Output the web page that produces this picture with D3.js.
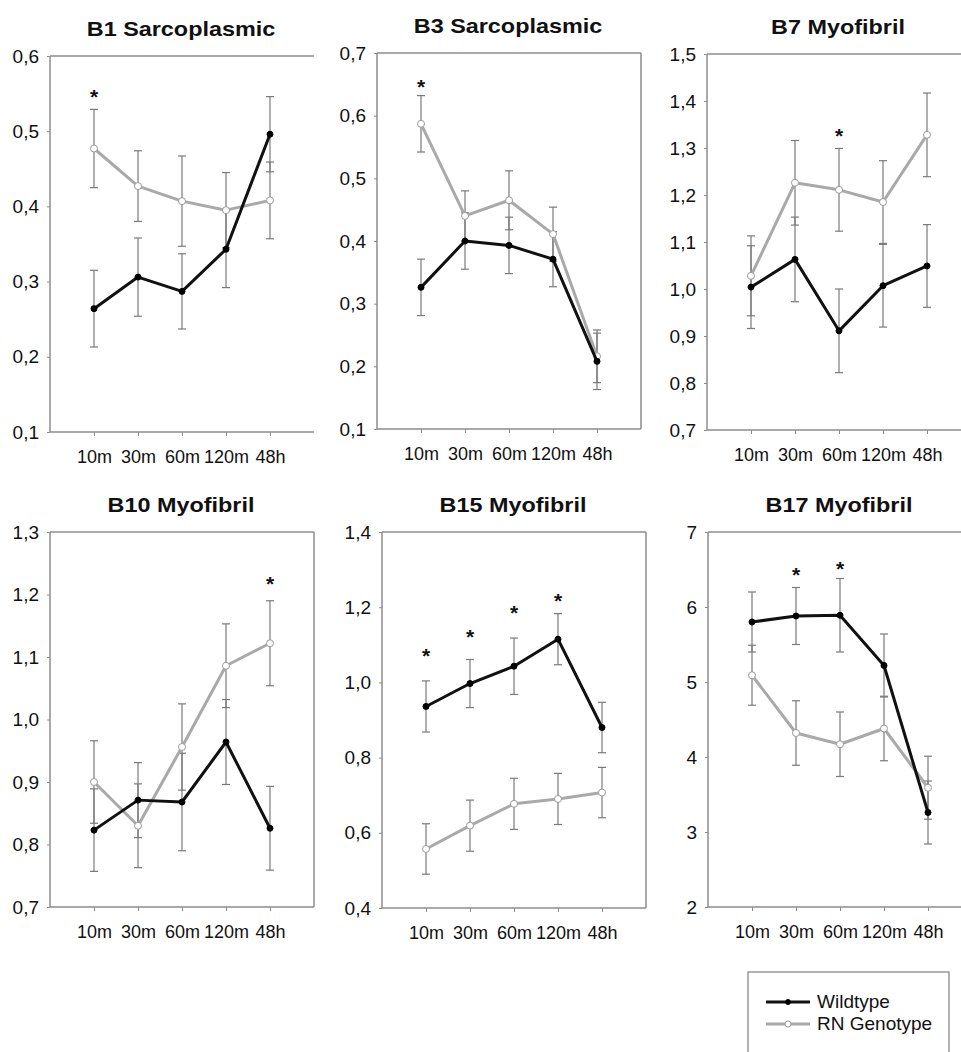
<!DOCTYPE html>
<html lang="en">
<head>
<meta charset="UTF-8"/>
<title>Wildtype vs RN Genotype</title>
<style>
  * { margin:0; padding:0; box-sizing:border-box }
  body { background:#fff; overflow:hidden; }
  svg { display:block; font-family:'Liberation Sans', Arial, sans-serif; }
</style>
</head>
<body>
<div id="chart"></div>
<script src="https://cdnjs.cloudflare.com/ajax/libs/d3/7.8.5/d3.min.js"></script>
<script>
// ── data ──────────────────────────────────
const times = ["10m", "30m", "60m", "120m", "48h"];
const titles = ["B1 Sarcoplasmic", "B3 Sarcoplasmic", "B7 Myofibril",
                "B10 Myofibril", "B15 Myofibril", "B17 Myofibril"];

// y axis ranges / ticks per panel
const yDomains = [[0.1, 0.6], [0.1, 0.7], [0.7, 1.5], [0.7, 1.3], [0.4, 1.4], [2, 7]];
const yTicks = [
  [0.1, 0.2, 0.3, 0.4, 0.5, 0.6],
  [0.1, 0.2, 0.3, 0.4, 0.5, 0.6, 0.7],
  [0.7, 0.8, 0.9, 1.0, 1.1, 1.2, 1.3, 1.4, 1.5],
  [0.7, 0.8, 0.9, 1.0, 1.1, 1.2, 1.3],
  [0.4, 0.6, 0.8, 1.0, 1.2, 1.4],
  [2, 3, 4, 5, 6, 7]
];

// Wildtype means and errors
const wildMean = [
  [0.264, 0.306, 0.287, 0.343, 0.496],
  [0.326, 0.400, 0.393, 0.371, 0.208],
  [1.004, 1.063, 0.911, 1.007, 1.049],
  [0.823, 0.871, 0.868, 0.964, 0.826],
  [0.936, 0.997, 1.043, 1.115, 0.880],
  [5.80, 5.88, 5.89, 5.22, 3.26]
];
const wildErr = [
  [0.051, 0.052, 0.050, 0.051, 0.050],
  [0.045, 0.045, 0.045, 0.044, 0.045],
  [0.088, 0.090, 0.089, 0.088, 0.088],
  [0.066, 0.060, 0.078, 0.068, 0.067],
  [0.068, 0.064, 0.075, 0.068, 0.067],
  [0.40, 0.38, 0.49, 0.42, 0.42]
];

// RN genotype means and errors
const rnMean = [
  [0.477, 0.427, 0.407, 0.395, 0.408],
  [0.587, 0.440, 0.465, 0.411, 0.216],
  [1.028, 1.226, 1.211, 1.185, 1.328],
  [0.900, 0.830, 0.956, 1.086, 1.122],
  [0.557, 0.619, 0.677, 0.690, 0.707],
  [5.09, 4.32, 4.17, 4.38, 3.59]
];
const rnErr = [
  [0.052, 0.047, 0.060, 0.050, 0.051],
  [0.045, 0.040, 0.047, 0.043, 0.042],
  [0.085, 0.090, 0.088, 0.088, 0.089],
  [0.066, 0.067, 0.069, 0.067, 0.068],
  [0.067, 0.068, 0.068, 0.068, 0.067],
  [0.40, 0.43, 0.43, 0.43, 0.42]
];

// significance markers: [time index, level]
const stars = [
  [[0, 0.552]],
  [[0, 0.654]],
  [[2, 1.336]],
  [[4, 1.225]],
  [[0, 1.083], [1, 1.133], [2, 1.197], [3, 1.229]],
  [[1, 6.50], [2, 6.57]]
];

const legendLabels = ["Wildtype", "RN Genotype"];

// ── layout ────────────────────────────────
const W = 961, H = 1052;
const panels = [
  {left:50,  top:56,  bottom:432, right:false},
  {left:377, top:53,  bottom:429, right:true},
  {left:707, top:54,  bottom:430, right:true},
  {left:50,  top:532, bottom:907, right:true},
  {left:382, top:532, bottom:908, right:true},
  {left:708, top:532, bottom:907, right:true}
];
const plotW = 264;
const frameCol = "#8c8c8c", errCol = "#7a7a7a";
const blackCol = "#111", greyCol = "#a9a9a9";

const svg = d3.select("#chart").append("svg")
  .attr("width", W).attr("height", H);
svg.append("rect").attr("width", W).attr("height", H).attr("fill", "#fff");

const comma = f => v => f(v).replace(".", ",");

panels.forEach((p, k) => {
  const g = svg.append("g");
  const x = d3.scalePoint().domain(times).range([p.left, p.left + plotW]).padding(1);
  const y = d3.scaleLinear().domain(yDomains[k]).range([p.bottom, p.top]);
  const fmt = k === 5 ? d3.format("d") : comma(d3.format(".1f"));

  // title
  g.append("text")
    .attr("transform", `translate(${p.left + 131},${p.top - 20}) scale(1.17,1)`)
    .attr("text-anchor", "middle")
    .attr("font-size", 20).attr("font-weight", "bold").attr("fill", "#111")
    .text(titles[k]);

  // axes
  const ya = g.append("g").attr("transform", `translate(${p.left},0)`)
    .call(d3.axisLeft(y).tickValues(yTicks[k]).tickFormat(fmt).tickSize(3).tickPadding(8));
  ya.select(".domain").remove();
  ya.selectAll("line").attr("stroke", frameCol);
  ya.selectAll("text").attr("font-size", 19).attr("fill", "#111");

  const xa = g.append("g").attr("transform", `translate(0,${p.bottom})`)
    .call(d3.axisBottom(x).tickSize(4).tickPadding(14));
  xa.select(".domain").remove();
  xa.selectAll("line").attr("stroke", frameCol);
  xa.selectAll("text").attr("font-size", 18).attr("fill", "#111");

  // frame
  const fr = [[p.left, p.top, p.left, p.bottom],
              [p.left, p.top, p.left + plotW, p.top],
              [p.left, p.bottom, p.left + plotW, p.bottom]];
  if (p.right) fr.push([p.left + plotW, p.top, p.left + plotW, p.bottom]);
  g.selectAll(".frame").data(fr).join("line")
    .attr("x1", d => d[0]).attr("y1", d => d[1])
    .attr("x2", d => d[2]).attr("y2", d => d[3])
    .attr("stroke", frameCol).attr("stroke-width", 1.5);

  const series = [
    {mean: rnMean[k],   err: rnErr[k],   col: greyCol,  fill: "#fff", stroke: "#9a9a9a", r: 3.5},
    {mean: wildMean[k], err: wildErr[k], col: blackCol, fill: "#000", stroke: "#000",    r: 3}
  ];

  // error bars
  series.forEach(s => {
    const eb = g.append("g").attr("stroke", errCol).attr("stroke-width", 1.2);
    s.mean.forEach((m, i) => {
      const cx = x(times[i]), y1 = y(m + s.err[i]), y2 = y(m - s.err[i]);
      eb.append("line").attr("x1", cx).attr("x2", cx).attr("y1", y1).attr("y2", y2);
      eb.append("line").attr("x1", cx - 4).attr("x2", cx + 4).attr("y1", y1).attr("y2", y1);
      eb.append("line").attr("x1", cx - 4).attr("x2", cx + 4).attr("y1", y2).attr("y2", y2);
    });
  });

  // lines + markers
  const line = d3.line().x((d, i) => x(times[i])).y(d => y(d));
  series.forEach(s => {
    g.append("path").datum(s.mean)
      .attr("d", line).attr("fill", "none")
      .attr("stroke", s.col).attr("stroke-width", 3).attr("stroke-linejoin", "round");
    g.selectAll(null).data(s.mean).join("circle")
      .attr("cx", (d, i) => x(times[i])).attr("cy", d => y(d))
      .attr("r", s.r).attr("fill", s.fill).attr("stroke", s.stroke).attr("stroke-width", 1);
  });

  // asterisks
  g.selectAll(null).data(stars[k]).join("text")
    .attr("x", d => x(times[d[0]])).attr("y", d => y(d[1]) + 12)
    .attr("text-anchor", "middle").attr("font-size", 21).attr("font-weight", "bold")
    .attr("fill", "#111").text("*");
});

// ── legend ────────────────────────────────
const lg = svg.append("g");
lg.append("rect").attr("x", 748).attr("y", 972).attr("width", 201).attr("height", 120)
  .attr("fill", "#fff").attr("stroke", "#999").attr("stroke-width", 1.5);
const legendStyle = [
  {col: blackCol, fill: "#000", stroke: "#000", r: 2.5},
  {col: greyCol, fill: "#fff", stroke: "#9a9a9a", r: 3}
];
legendLabels.forEach((lab, i) => {
  const ly = 1002 + i * 22, st = legendStyle[i];
  lg.append("line").attr("x1", 766).attr("x2", 810).attr("y1", ly).attr("y2", ly)
    .attr("stroke", st.col).attr("stroke-width", 3);
  lg.append("circle").attr("cx", 788).attr("cy", ly).attr("r", st.r)
    .attr("fill", st.fill).attr("stroke", st.stroke);
  lg.append("text").attr("x", 817).attr("y", ly + 6)
    .attr("font-size", 19).attr("fill", "#111").text(lab);
});
</script>
</body>
</html>
